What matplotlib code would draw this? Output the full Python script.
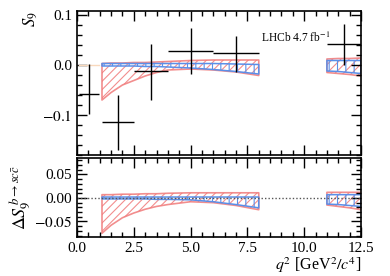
import numpy as np
import matplotlib
matplotlib.use("Agg")
import matplotlib.pyplot as plt
from matplotlib.ticker import MultipleLocator

plt.rcParams['font.family'] = ['Liberation Serif', 'DejaVu Serif']
plt.rcParams['mathtext.fontset'] = 'stix'
plt.rcParams['hatch.linewidth'] = 0.8

# ---- data ----
bin_lo = [0.1, 1.1, 2.5, 4.0, 6.0, 11.0]
bin_hi = [0.98, 2.5, 4.0, 6.0, 8.0, 12.5]
s9_val = [-0.057, -0.114, -0.012, 0.028, 0.024, 0.042]
s9_err_up = [0.060, 0.055, 0.055, 0.047, 0.034, 0.040]
s9_err_dn = [0.041, 0.055, 0.057, 0.045, 0.037, 0.041]

# theory bands, low-q2 region
q_a = [1.1, 1.5, 2.0, 2.5, 3.0, 3.5, 4.0, 5.0, 6.0, 7.0, 8.0]
red_top_a = [0.003, 0.004, 0.004, 0.005, 0.005, 0.006, 0.007, 0.009, 0.010, 0.010, 0.010]
red_bot_a = [-0.070, -0.055, -0.040, -0.031, -0.022, -0.015, -0.010, -0.008, -0.010, -0.014, -0.021]
blue_top_a = [0.003, 0.003, 0.003, 0.003, 0.003, 0.003, 0.003, 0.003, 0.003, 0.002, 0.001]
blue_bot_a = [-0.002, -0.002, -0.002, -0.002, -0.003, -0.003, -0.004, -0.006, -0.009, -0.013, -0.018]
# high-q2 region
q_b = [11.0, 11.5, 12.0, 12.5]
red_top_b = [0.012, 0.013, 0.013, 0.014]
red_bot_b = [-0.015, -0.017, -0.019, -0.022]
blue_top_b = [0.009, 0.009, 0.009, 0.009]
blue_bot_b = [-0.012, -0.013, -0.015, -0.017]

# Delta S9 bands
d_red_top_a = [0.007, 0.007, 0.008, 0.008, 0.009, 0.009, 0.010, 0.011, 0.011, 0.011, 0.011]
d_red_bot_a = [-0.075, -0.058, -0.042, -0.032, -0.024, -0.018, -0.014, -0.008, -0.010, -0.016, -0.025]
d_blue_top_a = [0.002, 0.002, 0.002, 0.002, 0.002, 0.002, 0.002, 0.002, 0.002, 0.002, 0.002]
d_blue_bot_a = [-0.002, -0.002, -0.002, -0.002, -0.002, -0.003, -0.003, -0.004, -0.008, -0.014, -0.021]
d_red_top_b = [0.012, 0.012, 0.012, 0.012]
d_red_bot_b = [-0.015, -0.018, -0.021, -0.025]
d_blue_top_b = [0.007, 0.007, 0.007, 0.007]
d_blue_bot_b = [-0.013, -0.014, -0.016, -0.018]

RED = '#f07a7a'
BLUE = '#5b8fe8'

W, H = 390, 276
fig = plt.figure(figsize=(W/100, H/100), dpi=100)
ax1 = fig.add_axes([77/W, (H-155)/H, 284/W, 144/H])
ax2 = fig.add_axes([77/W, (H-237)/H, 284/W, 79/H])

def bands(ax, q, rt, rb, bt, bb):
    ax.fill_between(q, rb, rt, facecolor='none', edgecolor=RED, hatch='////', lw=1.2, alpha=0.85)
    ax.fill_between(q, bb, bt, facecolor='none', edgecolor=BLUE, hatch='||', lw=1.1)

# top panel
ax1.plot([0.1, 0.98], [0, 0], color='#f9d9bd', lw=1.0)
bands(ax1, q_a, red_top_a, red_bot_a, blue_top_a, blue_bot_a)
bands(ax1, q_b, red_top_b, red_bot_b, blue_top_b, blue_bot_b)
xc = [(a + b) / 2 for a, b in zip(bin_lo, bin_hi)]
xe = [(b - a) / 2 for a, b in zip(bin_lo, bin_hi)]
ax1.errorbar(xc, s9_val, xerr=xe, yerr=[s9_err_dn, s9_err_up], fmt='none',
             ecolor='black', elinewidth=1.0, capsize=0)
ax1.set_xlim(0, 12.5)
ax1.set_ylim(-0.18, 0.108)
ax1.yaxis.set_minor_locator(MultipleLocator(0.02))
ax1.set_yticks([-0.1, 0.0, 0.1])
ax1.set_yticklabels(['$-0.1$', '0.0', '0.1'])
ax1.tick_params(labelbottom=False)
ax1.text(8.1, 0.047, 'LHCb 4.7 fb$^{-1}$', fontsize=8.3, va='baseline')
ax1.set_ylabel('$S_9$', fontsize=12)
ax1.yaxis.set_label_coords(-0.13, 1.0)
ax1.yaxis.label.set_ha('right')

# bottom panel
ax2.axhline(0, color='#555555', lw=1.0, ls=(0, (1, 1.5)))
bands(ax2, q_a, d_red_top_a, d_red_bot_a, d_blue_top_a, d_blue_bot_a)
bands(ax2, q_b, d_red_top_b, d_red_bot_b, d_blue_top_b, d_blue_bot_b)
ax2.set_xlim(0, 12.5)
ax2.set_ylim(-0.083, 0.085)
ax2.yaxis.set_minor_locator(MultipleLocator(0.01))
ax2.set_yticks([-0.05, 0.0, 0.05])
ax2.set_yticklabels(['$-0.05$', '0.00', '0.05'])
ax2.set_xticks([0, 2.5, 5, 7.5, 10, 12.5])
ax2.set_xticklabels(['0.0', '2.5', '5.0', '7.5', '10.0', '12.5'])
ax2.set_ylabel(r'$\Delta S_9^{\,b\to sc\bar{c}}$', fontsize=13)
ax2.yaxis.set_label_coords(-0.155, 0.91)
ax2.yaxis.label.set_ha('right')
ax2.set_xlabel(r'$q^2$ [GeV$^2/c^4$]', fontsize=11.5)
ax2.xaxis.set_label_coords(1.0, -0.235)
ax2.xaxis.label.set_ha('right')

for ax in (ax1, ax2):
    ax.xaxis.set_major_locator(MultipleLocator(2.5))
    ax.xaxis.set_minor_locator(MultipleLocator(0.5))
    ax.tick_params(which='both', direction='in', top=True, right=True, labelsize=11, width=1.0)
    ax.tick_params(which='major', length=7)
    ax.tick_params(which='minor', length=3.5)
    for s in ax.spines.values():
        s.set_linewidth(1.2)
ax2.tick_params(axis='x', which='major', pad=3.5)

fig.savefig('out.png', dpi=100)
